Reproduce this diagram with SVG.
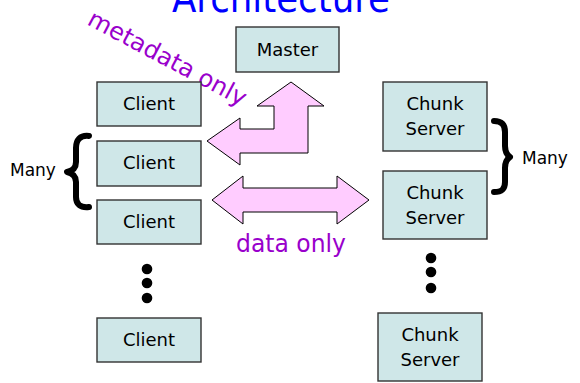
<svg xmlns="http://www.w3.org/2000/svg" width="580" height="383" viewBox="0 0 580 383">
<style>
.box{fill:#cfe7e8;stroke:#333;stroke-width:1.4}
.lbl{font-family:"DejaVu Sans","Liberation Sans",sans-serif;font-size:18px;fill:#000;text-anchor:middle}
.arrow{fill:#ffccff;stroke:#000;stroke-width:1}
.brace{fill:none;stroke:#000;stroke-width:6;stroke-linecap:round;stroke-linejoin:round}
.purple{font-family:"DejaVu Sans","Liberation Sans",sans-serif;fill:#9900cc}
.many{font-family:"DejaVu Sans","Liberation Sans",sans-serif;font-size:17px;fill:#000}
</style>
<rect width="580" height="383" fill="#fff"/>
<text x="281" y="12" font-family="DejaVu Sans, Liberation Sans, sans-serif" font-size="40" fill="#0000ff" text-anchor="middle" textLength="218" lengthAdjust="spacingAndGlyphs">Architecture</text>
<text class="purple" font-size="24" transform="translate(86,24) rotate(28)" textLength="176" lengthAdjust="spacingAndGlyphs">metadata only</text>
<text class="purple" x="236" y="252" font-size="25" textLength="110" lengthAdjust="spacingAndGlyphs">data only</text>
<g id="connectors">
<polygon class="arrow" points="291,82 324,106 308,106 308,153 240,153 240,165 207,141 240,118 240,129 274,129 274,106 257,106"/>
<polygon class="arrow" points="212,200 243,176 243,188 337,188 337,176 369,200 337,224 337,212 243,212 243,224"/>
</g>
<g id="master"><rect class="box" x="236" y="27" width="103" height="45"/><text class="lbl" x="287.5" y="56">Master</text></g>
<g id="client1"><rect class="box" x="97" y="82" width="104" height="44"/><text class="lbl" x="149" y="110">Client</text></g>
<g id="client2"><rect class="box" x="97" y="141" width="104" height="45"/><text class="lbl" x="149" y="169">Client</text></g>
<g id="client3"><rect class="box" x="97" y="200" width="104" height="44"/><text class="lbl" x="149" y="228">Client</text></g>
<g id="client4"><rect class="box" x="97" y="318" width="104" height="44"/><text class="lbl" x="149" y="346">Client</text></g>
<g id="chunk1"><rect class="box" x="383" y="82" width="104" height="69"/><text class="lbl" x="435" y="110">Chunk</text><text class="lbl" x="435" y="135">Server</text></g>
<g id="chunk2"><rect class="box" x="383" y="171" width="104" height="68"/><text class="lbl" x="435" y="199">Chunk</text><text class="lbl" x="435" y="224">Server</text></g>
<g id="chunk3"><rect class="box" x="378" y="313" width="104" height="68"/><text class="lbl" x="430" y="341">Chunk</text><text class="lbl" x="430" y="366">Server</text></g>
<g id="dots-left" fill="#000"><circle cx="147" cy="269" r="5.3"/><circle cx="147" cy="283" r="5.3"/><circle cx="147" cy="298" r="5.3"/></g>
<g id="dots-right" fill="#000"><circle cx="431" cy="258" r="5.3"/><circle cx="431" cy="272" r="5.3"/><circle cx="431" cy="288" r="5.3"/></g>
<g id="brace-left">
<path class="brace" d="M89,136 C80,135 76,140 76,148 L76,162 C76,168 72,171 67,172 C72,173 76,176 76,182 L76,197 C76,204 80,208 89,207"/>
<text class="many" x="10" y="176">Many</text>
</g>
<g id="brace-right">
<path class="brace" d="M494,121 C502,121 505,125 505,132 L505,146 C505,152 507,155 510,157 C507,159 505,162 505,168 L505,182 C505,189 502,192 494,192"/>
<text class="many" x="522" y="164">Many</text>
</g>
</svg>
